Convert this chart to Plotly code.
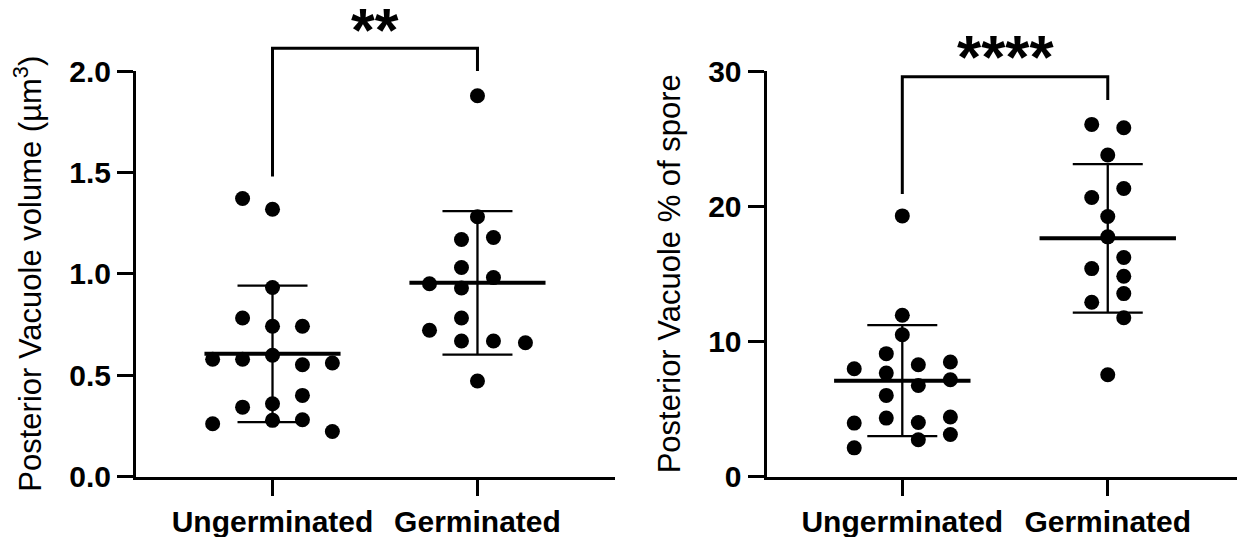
import numpy as np
import plotly.graph_objects as go

# ---------------- data ----------------
categories = ["Ungerminated", "Germinated"]

vol_ungerminated = [1.371, 1.318, 0.932, 0.782, 0.741, 0.741, 0.578, 0.578, 0.598,
                    0.551, 0.560, 0.400, 0.342, 0.359, 0.277, 0.280, 0.260, 0.222]
vol_ung_slots = [-1, 0, 0, -1, 0, 1, -2, -1, 0, 1, 2, 1, -1, 0, 0, 1, -2, 2]

vol_germinated = [1.878, 1.281, 1.169, 1.179, 1.031, 0.981, 0.951, 0.930, 0.782,
                  0.721, 0.668, 0.668, 0.660, 0.471]
vol_germ_slots = [0, 0, -0.5, 0.5, -0.5, 0.5, -1.5, -0.5, -0.5, -1.5, -0.5, 0.5, 1.5, 0]

pct_ungerminated = [19.28, 11.93, 10.49, 9.09, 7.97, 7.65, 8.27, 8.47, 7.16, 6.74,
                    6.00, 3.95, 4.32, 4.00, 4.40, 3.11, 2.72, 2.12]
pct_ung_slots = [0, 0, 0, -0.5, -1.5, -0.5, 0.5, 1.5, 1.5, 0.5, -0.5, -1.5, -0.5,
                 0.5, 1.5, 1.5, 0.5, -1.5]

pct_germinated = [26.05, 25.80, 23.78, 21.31, 20.64, 19.24, 17.73, 16.20, 15.38,
                  14.81, 13.53, 12.89, 11.75, 7.53]
pct_germ_slots = [-0.5, 0.5, 0, 0.5, -0.5, 0, 0, 0.5, -0.5, 0.5, 0.5, -0.5, 0.5, 0]

vol_ticks = [0.0, 0.5, 1.0, 1.5, 2.0]
pct_ticks = [0, 10, 20, 30]

sig_left = "**"
sig_right = "****"
# bracket: (top, left-leg bottom, right-leg bottom) in data units
bracket_left = (2.112, 1.48, 2.0)
bracket_right = (29.58, 20.9, 27.85)

# ---------------- styling ----------------
FONT = "Liberation Sans, Arial, Helvetica, sans-serif"
BLACK = "#000000"

fig = go.Figure()


def add_group(xa, ya, idx, values, slots, step):
    v = np.asarray(values, dtype=float)
    xs = idx + np.asarray(slots, dtype=float) * step
    mean = v.mean()
    sd = v.std(ddof=1)
    # SD error bar
    fig.add_trace(go.Scatter(
        x=[idx], y=[mean], mode="markers", xaxis=xa, yaxis=ya,
        marker=dict(size=1, color="rgba(0,0,0,0)"),
        error_y=dict(type="data", array=[sd], symmetric=True,
                     color=BLACK, thickness=2.3, width=35),
        showlegend=False, hoverinfo="skip"))
    # mean line
    fig.add_trace(go.Scatter(
        x=[idx - 0.332, idx + 0.332], y=[mean, mean], mode="lines",
        xaxis=xa, yaxis=ya, line=dict(color=BLACK, width=4),
        showlegend=False, hoverinfo="skip"))
    # points
    fig.add_trace(go.Scatter(
        x=xs, y=v, mode="markers", xaxis=xa, yaxis=ya,
        marker=dict(size=15, color=BLACK, line=dict(width=0)),
        showlegend=False, name=categories[idx]))


add_group("x", "y", 0, vol_ungerminated, vol_ung_slots, 0.146)
add_group("x", "y", 1, vol_germinated, vol_germ_slots, 0.156)
add_group("x2", "y2", 0, pct_ungerminated, pct_ung_slots, 0.156)
add_group("x2", "y2", 1, pct_germinated, pct_germ_slots, 0.156)

vol_max = vol_ticks[-1]
pct_max = pct_ticks[-1]


def bracket(xref, yref, ymax, br):
    top, l, r = (b / ymax for b in br)
    return dict(type="path", xref=xref, yref=yref,
                path=f"M 0,{l} L 0,{top} L 1,{top} L 1,{r}",
                line=dict(color=BLACK, width=3))


shapes = [bracket("x", "y domain", vol_max, bracket_left),
          bracket("x2", "y2 domain", pct_max, bracket_right)]

annotations = [
    dict(xref="x", yref="y domain", x=0.5, y=bracket_left[0] / vol_max,
         text=sig_left, showarrow=False, yanchor="middle", yshift=18,
         font=dict(family=FONT, size=61, color=BLACK, weight="bold")),
    dict(xref="x2", yref="y2 domain", x=0.5, y=bracket_right[0] / pct_max,
         text=sig_right, showarrow=False, yanchor="middle", yshift=20,
         font=dict(family=FONT, size=62, color=BLACK, weight="bold")),
]

W, H = 1245, 537
OFF = 8  # page body margin offset of the plot div
y_dom = [(H - (476.5 - OFF)) / H, (H - (71 - OFF)) / H]

xaxis_common = dict(
    tickvals=[0, 1], ticktext=categories, showline=True, linewidth=3,
    linecolor=BLACK, ticks="outside", ticklen=16, tickwidth=3, tickcolor=BLACK,
    showgrid=False, zeroline=False, automargin=False,
    tickfont=dict(family=FONT, size=30, color=BLACK, weight="bold"))

yaxis_common = dict(
    showline=True, linewidth=3, linecolor=BLACK, ticks="outside", ticklen=16,
    tickwidth=3, tickcolor=BLACK, showgrid=False, zeroline=False,
    automargin=False,
    tickfont=dict(family=FONT, size=30, color=BLACK, weight="bold"),
    domain=y_dom)

fig.update_layout(
    width=W, height=H,
    margin=dict(l=0, r=0, t=0, b=0),
    paper_bgcolor="white", plot_bgcolor="white",
    xaxis=dict(xaxis_common, domain=[(136 - OFF) / W, (615 - OFF) / W],
               range=[-0.666, 1.671], anchor="y"),
    xaxis2=dict(xaxis_common, domain=[(766.5 - OFF) / W, (1245 - OFF) / W],
                range=[-0.661, 1.668], anchor="y2"),
    yaxis=dict(yaxis_common, range=[0, vol_max], anchor="x",
               tickvals=vol_ticks, tickformat=".1f",
               title=dict(text="Posterior Vacuole volume (µm<sup>3</sup>)",
                          font=dict(family=FONT, size=31, color=BLACK),
                          standoff=21)),
    yaxis2=dict(yaxis_common, range=[0, pct_max], anchor="x2",
                tickvals=pct_ticks, tickformat="d",
                title=dict(text="Posterior Vacuole % of spore",
                           font=dict(family=FONT, size=31, color=BLACK),
                           standoff=19)),
    shapes=shapes,
    annotations=annotations,
    showlegend=False,
)

fig.write_html("out.html")
